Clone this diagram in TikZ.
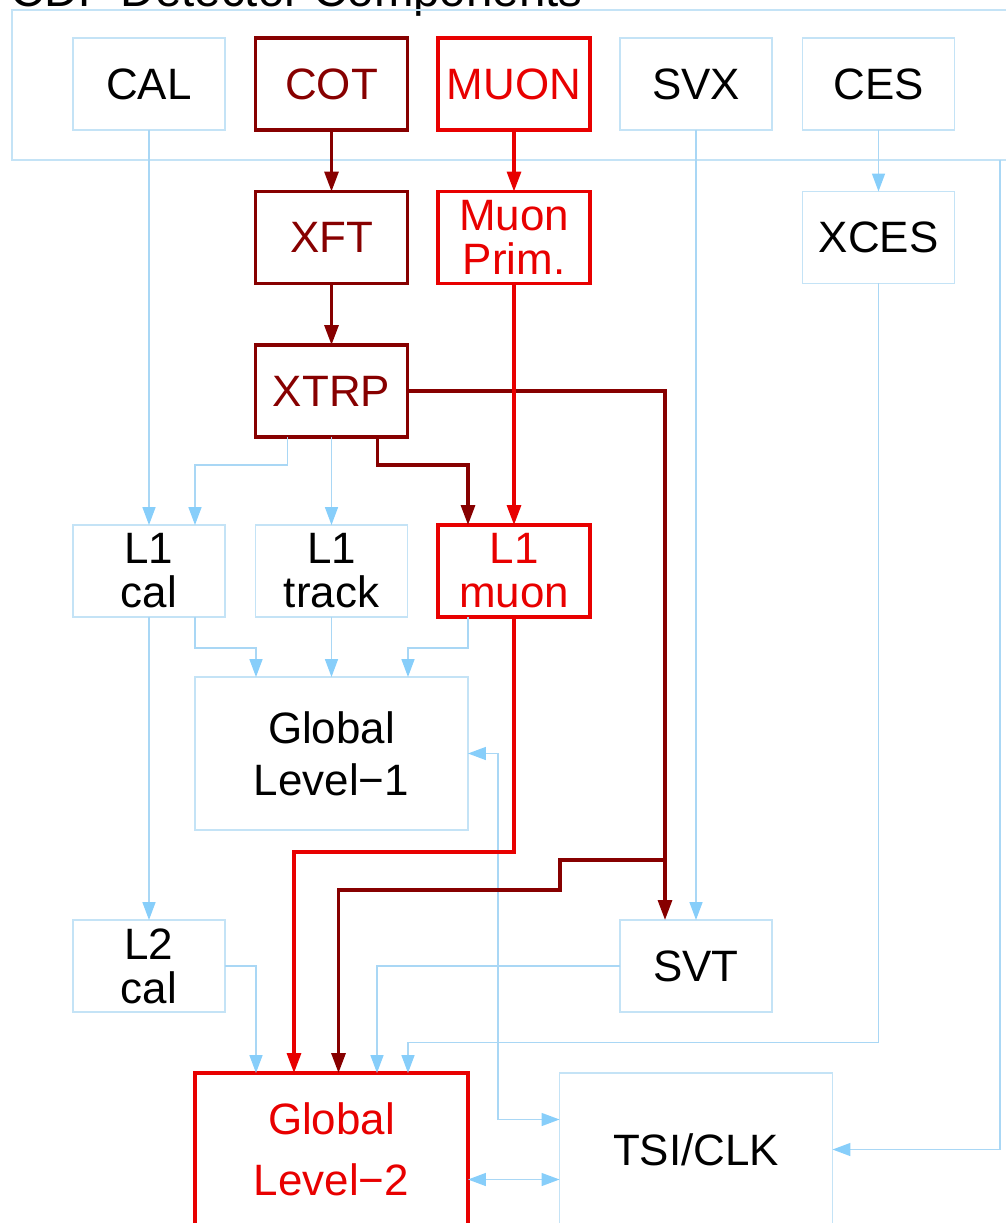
\documentclass[tikz,border=0pt]{standalone}
\usepackage{fontspec}
\setmainfont{Liberation Sans}
\usetikzlibrary{arrows.meta,calc,positioning}
\definecolor{pale}{HTML}{C4E3F6}
\definecolor{sky}{HTML}{87CEFA}
\definecolor{line}{HTML}{A9D7F5}
\definecolor{dred}{HTML}{870000}
\definecolor{bred}{HTML}{E80000}
\tikzset{
  unit/.style={draw=pale,line width=0.9pt,inner sep=0pt,outer sep=0pt,
    minimum width=3.04cm,minimum height=1.84cm,align=center,
    font=\fontsize{25}{25}\selectfont},
  wide/.style={unit,minimum width=5.46cm,minimum height=3.06cm},
  dunit/.style={unit,draw=dred,line width=2.2pt,text=dred},
  runit/.style={unit,draw=bred,line width=2.2pt,text=bred},
  feed/.style={line,line width=0.9pt,-{Triangle[length=3.6mm,width=2.6mm,sky]}},
  both/.style={line,line width=0.9pt,{Triangle[length=3.6mm,width=2.6mm,sky]}-{Triangle[length=3.6mm,width=2.6mm,sky]}},
  dfeed/.style={dred,line width=1.8pt,-{Triangle[length=4mm,width=2.8mm]}},
  rfeed/.style={bred,line width=1.8pt,-{Triangle[length=4mm,width=2.8mm]}},
}
\begin{document}
\begin{tikzpicture}[x=0.02cm,y=-0.02cm]
  \useasboundingbox (0,0) rectangle (1005,1223);
  % ---------- detector components (title sits above the page edge) ----------
  \node[anchor=base west,inner sep=0pt,font=\fontsize{27}{27}\selectfont] (title) at (10,7) {CDF Detector Components};
  \node[draw=pale,line width=0.9pt,minimum width=20.56cm,minimum height=3cm] (det) at (526,85) {};
  \coordinate (detout) at (1000,160);
  \node[unit]  (cal)  at (149,84)   {CAL};
  \node[dunit] (cot)  at (331.5,84) {COT};
  \node[runit] (muon) at (514,84)   {MUON};
  \node[unit]  (svx)  at (696,84)   {SVX};
  \node[unit]  (ces)  at (878.5,84) {CES};
  % ---------- front-end and level 1 ----------
  \node[dunit] (xft)   at (331.5,237.5) {XFT};
  \node[runit] (mprim) at (514,237.5)   {Muon\\Prim.};
  \node[unit]  (xces)  at (878.5,237.5) {XCES};
  \node[dunit] (xtrp)  at (331.5,391)   {XTRP};
  \node[unit]  (lcal)  at (149,571)     {L1\\cal};
  \node[unit]  (ltrk)  at (331.5,571)   {L1\\track};
  \node[runit] (lmu)   at (514,571)     {L1\\muon};
  \node[wide]  (gl1)   at (331.5,753.5) {Global\\[4.6pt]Level−1};
  % ---------- level 2 ----------
  \node[unit]  (lcaltwo) at (149,966)   {L2\\cal};
  \node[unit]  (svt)     at (696,966)   {SVT};
  \node[wide,draw=bred,line width=2.2pt,text=bred] (gl2) at (331.5,1149.5) {Global\\[10pt]Level−2};
  \node[wide]  (tsi)     at (696,1149.5) {TSI/CLK};
  % light paths
  \draw[feed] (ces) -- (xces);
  \draw[feed] (cal) -- (lcal);
  \draw[feed] ($(xtrp.south)+(-44,0)$) -- ++(0,28) -| ($(lcal.north)+(46,0)$);
  \draw[feed] (xtrp) -- (ltrk);
  \draw[feed] (svx) -- (svt);
  \draw[feed] ($(lcal.south)+(46,0)$) -- ++(0,31) -| ($(gl1.north)+(-75.5,0)$);
  \draw[feed] (ltrk) -- (gl1);
  \draw[feed] ($(lmu.south)+(-46,0)$) -- ++(0,31) -| ($(gl1.north)+(76.5,0)$);
  \draw[feed] (lcal) -- (lcaltwo);
  \draw[feed] (lcaltwo.east) -| ($(gl2.north)+(-75.5,0)$);
  \draw[feed] (svt.west) -| ($(gl2.north)+(45.5,0)$);
  \draw[feed] (xces.south) -- ++(0,759) -| ($(gl2.north)+(76.5,0)$);
  \draw[both] (gl1.east) -- ++(30,0) |- ($(tsi.west)+(0,-30)$);
  \draw[both] ($(gl2.east)+(0,30)$) -- ($(tsi.west)+(0,30)$);
  \draw[feed] (detout) |- (tsi.east);
  % track path (dark red)
  \draw[dfeed] (cot) -- (xft);
  \draw[dfeed] (xft) -- (xtrp);
  \draw[dfeed] ($(xtrp.south)+(46,0)$) -- ++(0,28) -| ($(lmu.north)+(-46,0)$);
  \draw[dfeed] (xtrp.east) -| ($(svt.north)+(-31,0)$);
  \coordinate (tap) at ($(svt.north)+(-31,-60)$);
  \draw[dfeed] (tap) -- ++(-105,0) -- ++(0,30) -| ($(gl2.north)+(7,0)$);
  % muon path (red)
  \draw[rfeed] (muon) -- (mprim);
  \draw[rfeed] (mprim) -- (lmu);
  \draw[rfeed] (lmu.south) -- ++(0,235) -| ($(gl2.north)+(-37.5,0)$);
\end{tikzpicture}
\end{document}
